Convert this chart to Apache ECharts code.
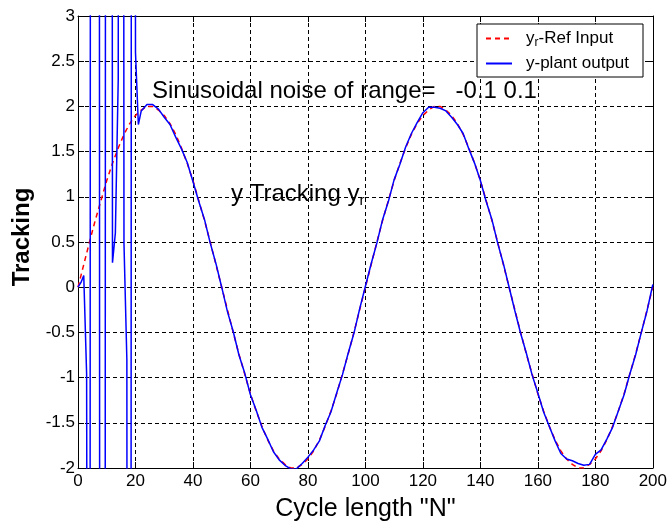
<!DOCTYPE html>
<html>
<head>
<meta charset="utf-8">
<script src="https://cdn.jsdelivr.net/npm/echarts@6/dist/echarts.min.js"></script>
<style>
html,body{margin:0;padding:0;background:#fff;}
#chart{width:670px;height:529px;}
</style>
</head>
<body>
<div id="chart"></div>
<script>
// Cycle index for the reference input
const cycleN = [0,2,4,6,8,10,12,14,16,18,20,22,24,26,28,30,32,34,36,38,40,42,44,46,48,50,
52,54,56,58,60,62,64,66,68,70,72,74,76,78,80,82,84,86,88,90,92,94,96,98,100,
102,104,106,108,110,112,114,116,118,120,122,124,126,128,130,132,134,136,138,140,142,144,146,148,150,
152,154,156,158,160,162,164,166,168,170,172,174,176,178,180,182,184,186,188,190,192,194,196,198,200];
// y_r - Ref Input
const refInput = [0,0.25,0.50,0.74,0.96,1.18,1.37,1.54,1.69,1.81,1.90,1.96,2.00,2.00,1.96,1.90,1.81,1.69,1.54,1.37,1.18,0.96,0.74,0.50,0.25,0,
-0.25,-0.50,-0.74,-0.96,-1.18,-1.37,-1.54,-1.69,-1.81,-1.90,-1.96,-2.00,-2.00,-1.96,-1.90,-1.81,-1.69,-1.54,-1.37,-1.18,-0.96,-0.74,-0.50,-0.25,0,
0.25,0.50,0.74,0.96,1.18,1.37,1.54,1.69,1.81,1.90,1.96,2.00,2.00,1.96,1.90,1.81,1.69,1.54,1.37,1.18,0.96,0.74,0.50,0.25,0,
-0.25,-0.50,-0.74,-0.96,-1.18,-1.37,-1.54,-1.69,-1.81,-1.90,-1.96,-2.00,-2.00,-1.96,-1.90,-1.81,-1.69,-1.54,-1.37,-1.18,-0.96,-0.74,-0.50,-0.25,0];
// Cycle index for the plant output
const plantN = [0,1,2,3,4,5,6,7,8,9,10,11,12,13,14,15,16,17,18,19,20,21,22,
24,26,28,30,32,34,36,38,40,42,44,46,48,50,
52,54,56,58,60,62,64,66,68,70,72,74,76,78,80,82,84,86,88,90,92,94,96,98,
100,102,104,106,108,110,112,114,116,118,120,122,124,126,128,130,132,134,136,138,140,142,144,146,148,
150,152,154,156,158,160,162,164,166,168,170,172,174,176,178,180,182,184,186,188,190,192,194,196,198,200];
// y - plant output
const plantOutput = [0,0.05,0.13,-0.96,-20,60,40,40,-40,-40,40,40,0.27,0.6,2.3,40,0.48,-0.8,-40,40,2.6,1.8,1.95,
2.02,2.02,1.97,1.88,1.80,1.66,1.53,1.38,1.17,0.95,0.75,0.49,0.26,0.00,
-0.27,-0.49,-0.75,-0.95,-1.19,-1.36,-1.55,-1.68,-1.82,-1.91,-1.97,-2.01,-2.01,-1.95,-1.88,-1.80,-1.70,-1.53,-1.38,-1.17,-0.97,-0.73,-0.51,-0.24,
0.01,0.26,0.49,0.75,0.95,1.19,1.36,1.55,1.70,1.82,1.93,1.99,1.99,1.98,1.95,1.88,1.80,1.70,1.53,1.37,1.18,0.95,0.75,0.49,0.26,
0.00,-0.26,-0.51,-0.73,-0.97,-1.17,-1.38,-1.54,-1.70,-1.84,-1.90,-1.92,-1.95,-1.97,-1.96,-1.85,-1.80,-1.68,-1.55,-1.37,-1.19,-0.96,-0.75,-0.50,-0.26,0.03];

const xTicks = [0,20,40,60,80,100,120,140,160,180,200];
const yTicks = [-2,-1.5,-1,-0.5,0,0.5,1,1.5,2,2.5,3];

const FONT = '"Liberation Sans", Arial, sans-serif';
const chart = echarts.init(document.getElementById('chart'));
const refData = cycleN.map((n, i) => [n, refInput[i]]);
const plantData = plantN.map((n, i) => [n, plantOutput[i]]);

const grid = {left: 78, right: 15, top: 16, bottom: 61};
const dash = {color: '#000', width: 1, type: [4, 3]};
chart.setOption({
  animation: false,
  backgroundColor: '#fff',
  grid: grid,
  legend: {
    orient: 'vertical',
    left: 477, top: 24,
    padding: [4, 14, 5, 8],
    itemGap: 6,
    itemWidth: 26, itemHeight: 14,
    backgroundColor: '#fff',
    borderColor: '#000', borderWidth: 1, borderRadius: 0,
    itemStyle: {opacity: 0},
    data: ['yr', 'y'],
    formatter: function (name) {
      return name === 'yr' ? '{f|y}{s|r}{m|-Ref Input}' : '{f|y-plant output}';
    },
    textStyle: {
      fontFamily: FONT, fontSize: 17, color: '#000',
      rich: {
        f: {fontFamily: FONT, fontSize: 17, color: '#000', lineHeight: 20, padding: [0, 0, 0, 9]},
        m: {fontFamily: FONT, fontSize: 17, color: '#000', lineHeight: 20},
        s: {fontFamily: FONT, fontSize: 12, color: '#000', padding: [9, 0, 0, 0], lineHeight: 20}
      }
    }
  },
  xAxis: [{
    type: 'value', min: 0, max: 200, interval: 20,
    position: 'bottom',
    name: 'Cycle length "N"', nameLocation: 'middle', nameGap: 29,
    nameTextStyle: {fontFamily: FONT, fontSize: 25, color: '#000'},
    axisLine: {show: true, onZero: false, lineStyle: {color: '#000', width: 1}},
    axisTick: {show: true, inside: true, length: 6, lineStyle: {color: '#000'}},
    axisLabel: {fontFamily: FONT, fontSize: 17, color: '#000', margin: 5,
      formatter: v => xTicks.indexOf(v) >= 0 ? String(v) : ''},
    splitLine: {show: true, lineStyle: dash}
  }, {
    type: 'value', min: 0, max: 200, interval: 20, position: 'top',
    axisLine: {show: true, onZero: false, lineStyle: {color: '#000', width: 1}},
    axisTick: {show: true, inside: true, length: 6, lineStyle: {color: '#000'}},
    axisLabel: {show: false}, splitLine: {show: false}
  }],
  yAxis: [{
    type: 'value', min: -2, max: 3, interval: 0.5,
    position: 'left',
    axisLine: {show: true, onZero: false, lineStyle: {color: '#000', width: 1}},
    axisTick: {show: true, inside: true, length: 6, lineStyle: {color: '#000'}},
    axisLabel: {fontFamily: FONT, fontSize: 17, color: '#000', margin: 3,
      formatter: v => yTicks.indexOf(v) >= 0 ? String(v) : ''},
    splitLine: {show: true, lineStyle: dash}
  }, {
    type: 'value', min: -2, max: 3, interval: 0.5, position: 'right',
    axisLine: {show: true, onZero: false, lineStyle: {color: '#000', width: 1}},
    axisTick: {show: true, inside: true, length: 6, lineStyle: {color: '#000'}},
    axisLabel: {show: false}, splitLine: {show: false}
  }],
  graphic: [{
    type: 'text', x: 22, y: 237, rotation: Math.PI / 2, silent: true,
    style: {text: 'Tracking', font: 'bold 24px ' + FONT, fill: '#000', align: 'center', verticalAlign: 'middle'}
  }, {
    type: 'text', left: 152, top: 79, silent: true,
    style: {text: 'Sinusoidal noise of range=   -0.1 0.1', font: '24px ' + FONT, fill: '#000'}
  }, {
    type: 'text', left: 231, top: 180, silent: true,
    style: {
      text: '{m|y Tracking y}{s|r}',
      rich: {
        m: {fontFamily: FONT, fontSize: 24, fill: '#000', color: '#000', lineHeight: 26},
        s: {fontFamily: FONT, fontSize: 15, fill: '#000', color: '#000', padding: [13, 0, 0, 0], lineHeight: 26}
      }
    }
  }],
  series: [{
    name: 'yr', type: 'line', data: refData, showSymbol: false, symbol: 'none',
    clip: true,
    lineStyle: {color: '#ff0000', width: 1.5, type: [5, 4]},
    itemStyle: {color: '#ff0000'}, z: 2
  }, {
    name: 'y', type: 'line', data: plantData, showSymbol: false, symbol: 'none',
    clip: true,
    lineStyle: {color: '#0000ff', width: 1.5},
    itemStyle: {color: '#0000ff'}, z: 3
  }]
});
</script>
</body>
</html>
